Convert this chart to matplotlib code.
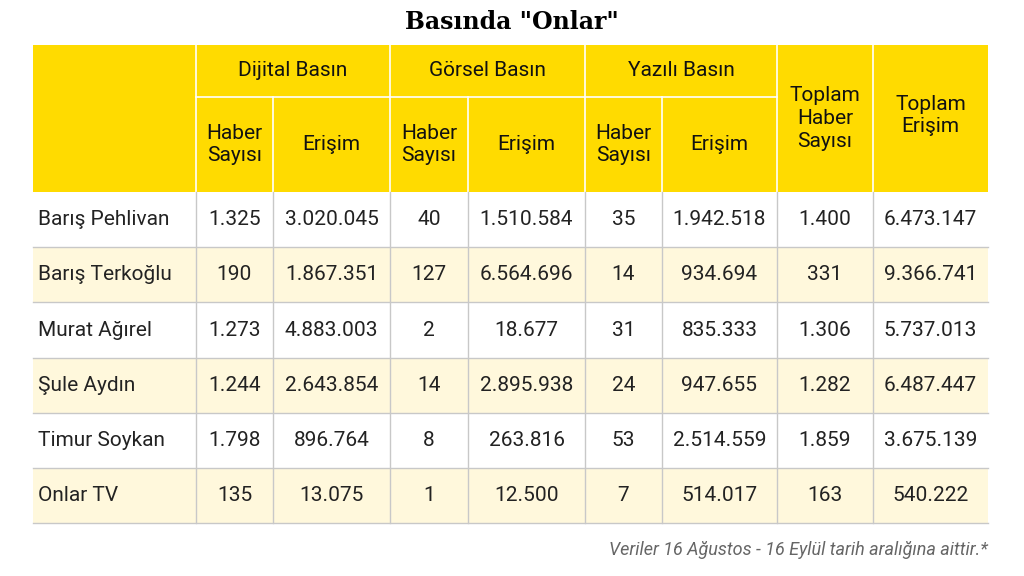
import matplotlib.pyplot as plt
from matplotlib.patches import Rectangle

# data
names = ["Barış Pehlivan", "Barış Terkoğlu", "Murat Ağırel", "Şule Aydın", "Timur Soykan", "Onlar TV"]
dijital_haber = ["1.325", "190", "1.273", "1.244", "1.798", "135"]
dijital_erisim = ["3.020.045", "1.867.351", "4.883.003", "2.643.854", "896.764", "13.075"]
gorsel_haber = ["40", "127", "2", "14", "8", "1"]
gorsel_erisim = ["1.510.584", "6.564.696", "18.677", "2.895.938", "263.816", "12.500"]
yazili_haber = ["35", "14", "31", "24", "53", "7"]
yazili_erisim = ["1.942.518", "934.694", "835.333", "947.655", "2.514.559", "514.017"]
toplam_haber = ["1.400", "331", "1.306", "1.282", "1.859", "163"]
toplam_erisim = ["6.473.147", "9.366.741", "5.737.013", "6.487.447", "3.675.139", "540.222"]
groups = ["Dijital Basın", "Görsel Basın", "Yazılı Basın"]
sub_headers = ["Haber\nSayısı", "Erişim"]

YEL = "#FFDB00"
CREAM = "#FFF8DC"
LINE = "#C8C8C8"
FONT = "Roboto"
FS = 15

fig = plt.figure(figsize=(10.24, 5.76), dpi=100)
ax = fig.add_axes([0, 0, 1, 1])
ax.set_xlim(0, 1024)
ax.set_ylim(576, 0)
ax.axis("off")

cols = [33, 196, 273, 390, 468, 585, 662, 777, 873, 988]
h_top, h_mid, h_bot = 45, 97, 192
row_h = 55.2

# header background
ax.add_patch(Rectangle((cols[0], h_top), cols[-1] - cols[0], h_bot - h_top, color=YEL, lw=0))
# header white lines
for x in cols[1:-1]:
    y0 = h_top if x in (196, 390, 585, 777, 873) else h_mid
    ax.plot([x, x], [y0, h_bot], color="white", lw=1.2)
ax.plot([cols[1], cols[7]], [h_mid, h_mid], color="white", lw=1.2)

hdr = dict(ha="center", va="center", fontsize=FS, family=FONT, color="#111111", linespacing=1.25)
for i, g in enumerate(groups):
    xc = (cols[1 + 2 * i] + cols[3 + 2 * i]) / 2
    ax.text(xc, (h_top + h_mid) / 2, g, **hdr)
    for j, s in enumerate(sub_headers):
        xc = (cols[1 + 2 * i + j] + cols[2 + 2 * i + j]) / 2
        ax.text(xc, (h_mid + h_bot) / 2, s, **hdr)
ax.text((cols[7] + cols[8]) / 2, (h_top + h_bot) / 2, "Toplam\nHaber\nSayısı", **hdr)
ax.text((cols[8] + cols[9]) / 2, (h_top + h_bot) / 2 - 3, "Toplam\nErişim", **hdr)

columns = [dijital_haber, dijital_erisim, gorsel_haber, gorsel_erisim,
           yazili_haber, yazili_erisim, toplam_haber, toplam_erisim]
for r, name in enumerate(names):
    y0 = h_bot + r * row_h
    if r % 2 == 1:
        ax.add_patch(Rectangle((cols[0], y0), cols[-1] - cols[0], row_h, color=CREAM, lw=0))
    ax.plot([cols[0], cols[-1]], [y0 + row_h, y0 + row_h], color=LINE, lw=1)
    ax.text(cols[0] + 5, y0 + row_h / 2, name, ha="left", va="center", fontsize=FS, family=FONT, color="#222222")
    for c, vals in enumerate(columns):
        ax.text((cols[c + 1] + cols[c + 2]) / 2, y0 + row_h / 2, vals[r], ha="center", va="center",
                fontsize=FS, family=FONT, color="#222222")
for x in cols[1:-1]:
    ax.plot([x, x], [h_bot, h_bot + 6 * row_h], color=LINE, lw=1)

ax.text(512, 22, 'Basında "Onlar"', ha="center", va="center", fontsize=17, family="DejaVu Serif",
        fontweight="bold")
ax.text(cols[-1], 550, "Veriler 16 Ağustos - 16 Eylül tarih aralığına aittir.*", ha="right", va="center",
        fontsize=13, family=FONT, style="italic", color="#666666")

fig.savefig("out.png", dpi=100)
